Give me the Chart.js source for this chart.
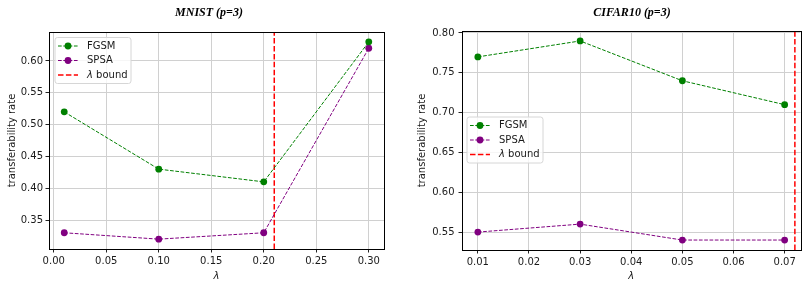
<!DOCTYPE html>
<html>
<head>
<meta charset="utf-8">
<script src="https://cdn.jsdelivr.net/npm/chart.js@4"></script>
<style>
  html, body { margin: 0; padding: 0; background: #fff; }
  #wrap { position: relative; width: 806px; height: 283px; overflow: hidden; }
  canvas { position: absolute; top: 0; }
</style>
</head>
<body>
<div id="wrap">
  <canvas id="mnistChart" width="400" height="283" style="left:0"></canvas>
  <canvas id="cifarChart" width="406" height="283" style="left:400px"></canvas>
</div>
<script>
// ---- data ----
const mnistLambda = [0.01, 0.10, 0.20, 0.30];
const mnistFgsm   = [0.52, 0.43, 0.41, 0.63];
const mnistSpsa   = [0.33, 0.32, 0.33, 0.62];
const mnistBound  = 0.21;
const mnistXTicks = [0.00, 0.05, 0.10, 0.15, 0.20, 0.25, 0.30];
const mnistYTicks = [0.35, 0.40, 0.45, 0.50, 0.55, 0.60];

const cifarLambda = [0.01, 0.03, 0.05, 0.07];
const cifarFgsm   = [0.77, 0.79, 0.74, 0.71];
const cifarSpsa   = [0.55, 0.56, 0.54, 0.54];
const cifarBound  = 0.072;
const cifarXTicks = [0.01, 0.02, 0.03, 0.04, 0.05, 0.06, 0.07];
const cifarYTicks = [0.55, 0.60, 0.65, 0.70, 0.75, 0.80];

const TICK_FONT = { family: "'DejaVu Sans', sans-serif", size: 10 };
const GRID = '#d0d0d0';
const TEXT = '#1a1a1a';

function pts(xs, ys) { return xs.map((x, i) => ({ x: x, y: ys[i] })); }

// titel, ramar och legend ritas ovanpå
const decorPlugin = {
  id: 'decor',
  afterDatasetsDraw(chart, args, opts) {
    const ctx = chart.ctx;
    const a = chart.chartArea;

    // legend box
    const bx = a.left + opts.legendDx, by = a.top + opts.legendDy;
    const bw = 76, bh = 46, r = 2.5;
    ctx.save();
    ctx.beginPath();
    ctx.moveTo(bx + r, by);
    ctx.arcTo(bx + bw, by, bx + bw, by + bh, r);
    ctx.arcTo(bx + bw, by + bh, bx, by + bh, r);
    ctx.arcTo(bx, by + bh, bx, by, r);
    ctx.arcTo(bx, by, bx + bw, by, r);
    ctx.closePath();
    ctx.fillStyle = 'rgba(255,255,255,0.8)';
    ctx.fill();
    ctx.strokeStyle = '#d6d6d6';
    ctx.lineWidth = 1;
    ctx.stroke();

    chart.data.datasets.forEach((ds, i) => {
      const cy = by + 8.5 + i * 14.5;
      ctx.strokeStyle = ds.borderColor;
      ctx.lineWidth = ds.borderWidth;
      ctx.setLineDash(ds.borderDash);
      ctx.beginPath();
      ctx.moveTo(bx + 3, cy);
      ctx.lineTo(bx + 23, cy);
      ctx.stroke();
      ctx.setLineDash([]);
      if (ds.pointRadius > 0) {
        ctx.fillStyle = ds.pointBackgroundColor;
        ctx.beginPath();
        ctx.arc(bx + 13, cy, ds.pointRadius, 0, Math.PI * 2);
        ctx.fill();
      }
      ctx.fillStyle = TEXT;
      ctx.textBaseline = 'middle';
      ctx.textAlign = 'left';
      let tx = bx + 32;
      if (ds.label.startsWith('λ')) {
        ctx.font = "italic 10px 'DejaVu Sans'";
        ctx.fillText('λ', tx, cy);
        tx += ctx.measureText('λ').width;
        ctx.font = "10px 'DejaVu Sans'";
        ctx.fillText(ds.label.slice(1), tx, cy);
      } else {
        ctx.font = "10px 'DejaVu Sans'";
        ctx.fillText(ds.label, tx, cy);
      }
    });
    ctx.restore();
  },
  afterDraw(chart, args, opts) {
    const ctx = chart.ctx;
    const a = chart.chartArea;
    ctx.save();
    // spines
    ctx.strokeStyle = '#000';
    ctx.lineWidth = 1;
    ctx.strokeRect(Math.round(a.left) + 0.5, Math.round(a.top) + 0.5,
                   Math.round(a.right - a.left), Math.round(a.bottom - a.top));
    // title
    ctx.fillStyle = '#000';
    ctx.font = "italic bold 12px 'Liberation Serif', serif";
    ctx.textAlign = 'center';
    ctx.textBaseline = 'middle';
    ctx.fillText(opts.title, opts.titleX, 12.5);
    ctx.restore();
  }
};

function makeChart(id, c) {
  const ctx = document.getElementById(id).getContext('2d');
  return new Chart(ctx, {
    type: 'line',
    data: {
      datasets: [
        {
          label: 'FGSM',
          data: pts(c.lambda, c.fgsm),
          borderColor: '#008000',
          pointBackgroundColor: '#008000',
          pointBorderWidth: 0,
          pointRadius: 3.4,
          borderWidth: 1,
          borderDash: [3.7, 1.6],
          tension: 0
        },
        {
          label: 'SPSA',
          data: pts(c.lambda, c.spsa),
          borderColor: '#800080',
          pointBackgroundColor: '#800080',
          pointBorderWidth: 0,
          pointRadius: 3.4,
          borderWidth: 1,
          borderDash: [3.7, 1.6],
          tension: 0
        },
        {
          label: 'λ bound',
          data: [{ x: c.bound, y: c.yMin }, { x: c.bound, y: c.yMax }],
          borderColor: '#ff0000',
          pointBackgroundColor: '#ff0000',
          pointRadius: 0,
          borderWidth: 1.5,
          borderDash: [5.5, 2.4],
          tension: 0
        }
      ]
    },
    options: {
      responsive: false,
      animation: false,
      events: [],
      layout: { padding: { top: c.padTop, right: c.padRight, left: 0, bottom: 0 } },
      plugins: {
        legend: { display: false },
        tooltip: { enabled: false },
        decor: { title: c.title, titleX: c.titleX, legendDx: c.legendDx, legendDy: c.legendDy }
      },
      scales: {
        x: {
          type: 'linear',
          min: c.xMin,
          max: c.xMax,
          afterFit: s => { s.height = 283 - c.bottom; },
          afterBuildTicks: s => { s.ticks = c.xTicks.map(v => ({ value: v })); },
          ticks: {
            font: TICK_FONT, color: TEXT, padding: 3, maxRotation: 0, autoSkip: false,
            callback: v => v.toFixed(2)
          },
          grid: { color: GRID, lineWidth: 1, tickLength: 3.5, tickColor: '#222' },
          border: { display: false },
          title: {
            display: true, text: 'λ', color: TEXT,
            font: { family: "'DejaVu Sans', sans-serif", size: 10, style: 'italic' },
            padding: { top: 0, bottom: 1 }
          }
        },
        y: {
          type: 'linear',
          min: c.yMin,
          max: c.yMax,
          afterFit: s => { s.width = c.left; },
          afterBuildTicks: s => { s.ticks = c.yTicks.map(v => ({ value: v })); },
          ticks: {
            font: TICK_FONT, color: TEXT, padding: c.yTickPad, autoSkip: false,
            callback: v => v.toFixed(2)
          },
          grid: { color: GRID, lineWidth: 1, tickLength: 3.5, tickColor: '#222' },
          border: { display: false },
          title: {
            display: true, text: 'transferability rate', color: TEXT,
            font: TICK_FONT,
            padding: { top: c.yTitlePad, bottom: 0 }
          }
        }
      }
    },
    plugins: [decorPlugin]
  });
}

makeChart('mnistChart', {
  title: 'MNIST (p=3)', titleX: 209,
  lambda: mnistLambda, fgsm: mnistFgsm, spsa: mnistSpsa, bound: mnistBound,
  xTicks: mnistXTicks, yTicks: mnistYTicks,
  xMin: -0.0045, xMax: 0.3145, yMin: 0.3045, yMax: 0.6455,
  left: 49, padTop: 32, padRight: 16, bottom: 249,
  yTickPad: 2.5, yTitlePad: 6,
  legendDx: 6, legendDy: 5.5
});

makeChart('cifarChart', {
  title: 'CIFAR10 (p=3)', titleX: 232,
  lambda: cifarLambda, fgsm: cifarFgsm, spsa: cifarSpsa, bound: cifarBound,
  xTicks: cifarXTicks, yTicks: cifarYTicks,
  xMin: 0.0069, xMax: 0.0731, yMin: 0.5275, yMax: 0.8025,
  left: 62, padTop: 31, padRight: 5.5, bottom: 250,
  yTickPad: 4, yTitlePad: 16.5,
  legendDx: 5, legendDy: 86
});
</script>
</body>
</html>
